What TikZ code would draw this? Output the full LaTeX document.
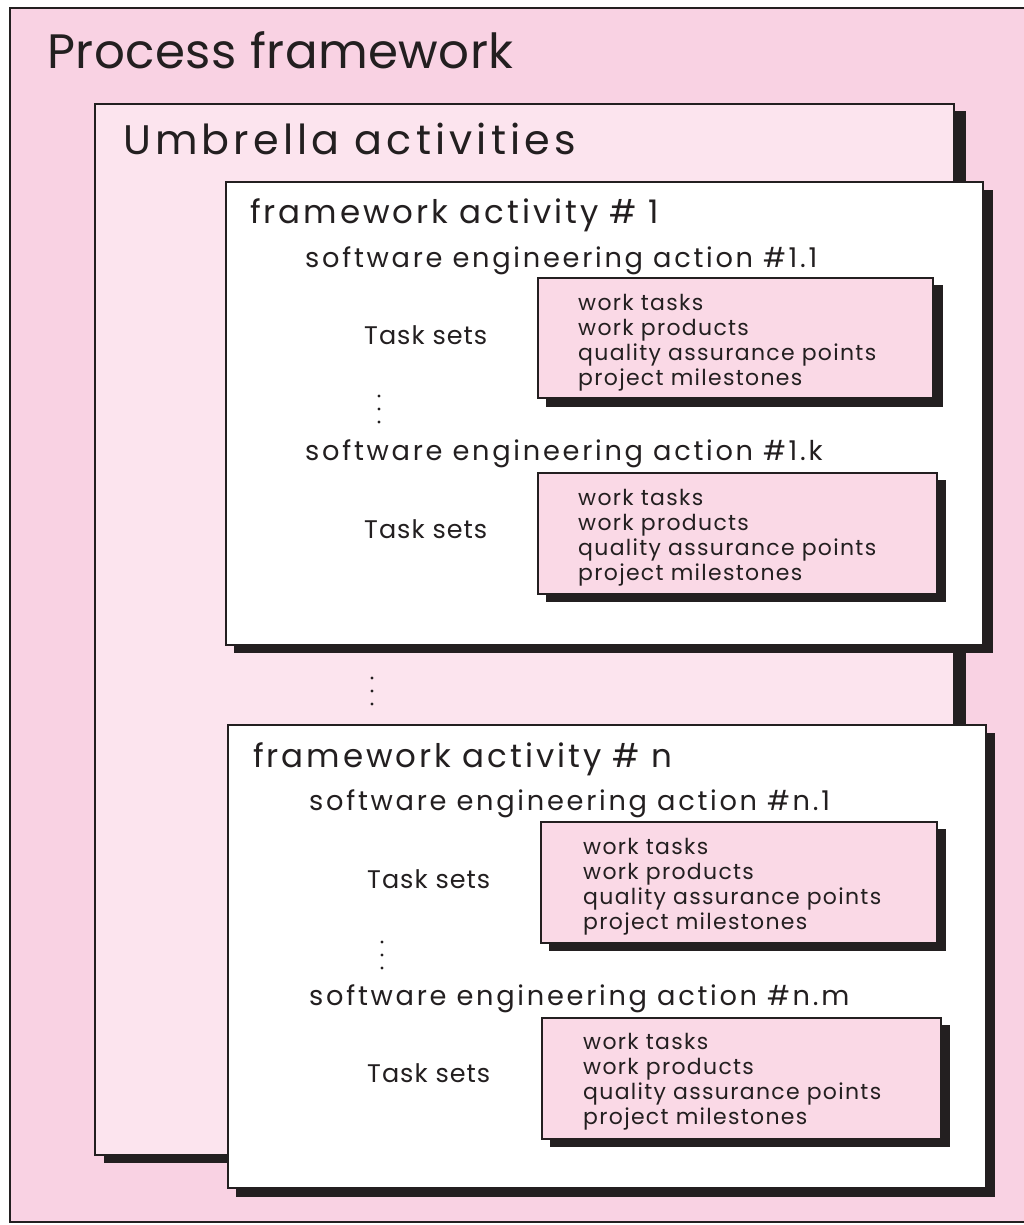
\documentclass[tikz,border=0pt]{standalone}
\usepackage{fontspec}
\setmainfont{Poppins}
\usepackage{tikz,color}

\definecolor{outerpink}{RGB}{249,210,227}
\definecolor{umbrpink}{RGB}{252,228,238}
\definecolor{taskpink}{RGB}{250,217,230}
\definecolor{ink}{RGB}{35,31,32}

\begin{document}
\begin{tikzpicture}[x=0.02cm, y=-0.02cm, line width=1.4pt,
  txt/.style={anchor=base west, inner sep=0pt, text=ink},
  ptitle/.style={txt, font={\fontsize{27.5}{30}\selectfont\addfontfeature{LetterSpace=1}}},
  utitle/.style={txt, font={\fontsize{23.5}{27}\selectfont\addfontfeature{LetterSpace=10}}},
  fahead/.style={txt, font={\fontsize{18.5}{22}\selectfont\addfontfeature{LetterSpace=9}}},
  sehead/.style={txt, font={\fontsize{15.5}{18}\selectfont\addfontfeature{LetterSpace=10}}},
  tslabel/.style={txt, font={\fontsize{14.5}{18}\selectfont\addfontfeature{LetterSpace=4}}},
  tsitem/.style={txt, font={\fontsize{12.5}{14}\selectfont\addfontfeature{LetterSpace=6}}}]

\clip (0,0) rectangle (1024,1225);

\path [fill=outerpink, draw=ink] (10,8) rectangle (1040,1222);

%%%%%%%%%%%%%%%%%%%%%%%%%%%%%%%%%%%%%%%%%%%%%%%%%%%%%%%%%%%%%%%%%%%%%%%%%%%%%%%%%%%
\path [fill=ink] (104,111) rectangle (966,1163);
\path [fill=umbrpink, draw=ink] (95,104) rectangle (954,1155);

\path [fill=ink] (234,190) rectangle (993,653);
\path [fill=white, draw=ink] (226,182) rectangle (983,645);

\path [fill=ink] (546,285) rectangle (943,407);
\path [fill=taskpink, draw=ink] (538,278) rectangle (933,398);

\path [fill=ink] (546,480) rectangle (946,602);
\path [fill=taskpink, draw=ink] (538,473) rectangle (937,594);

\path [fill=ink] (236,733) rectangle (995,1197);
\path [fill=white, draw=ink] (228,725) rectangle (986,1188);

\path [fill=ink] (549,829) rectangle (946,951);
\path [fill=taskpink, draw=ink] (541,822) rectangle (937,943);

\path [fill=ink] (550,1025) rectangle (950,1147);
\path [fill=taskpink, draw=ink] (542,1018) rectangle (941,1139);

%%%%%%%%%%%%%%%%%%%%%%%%%%%%%%%%%%%%%%%%%%%%%%%%%%%%%%%%%%%%%%%%%%%%%%%%%%%%%%%%%%%
\node (procfw) at (46,68) [ptitle] {Process framework};
\node (umbrella) at (122,154) [utitle] {Umbrella activities};

\node (fwact1) at (249,223) [fahead] {framework activity \# 1};
\node (seact11) at (304,267) [sehead] {software engineering action \#1.1};
\node (tasks11) at (363,344) [tslabel] {Task sets};
\node (seact1k) at (304,460) [sehead] {software engineering action \#1.k};
\node (tasks1k) at (363,538) [tslabel] {Task sets};

\node (fwactn) at (252,767) [fahead] {framework activity \# n};
\node (seactn1) at (308,810) [sehead] {software engineering action \#n.1};
\node (tasksn1) at (366,888) [tslabel] {Task sets};
\node (seactnm) at (308,1005) [sehead] {software engineering action \#n.m};
\node (tasksnm) at (366,1082) [tslabel] {Task sets};

% task set contents
\foreach \t [count=\i] in {work tasks, work products, quality assurance points, project milestones} {
  \node (list11-\i) at (577,285+25*\i) [tsitem] {\t};
  \node (list1k-\i) at (577,480+25*\i) [tsitem] {\t};
  \node (listn1-\i) at (582,829+25*\i) [tsitem] {\t};
  \node (listnm-\i) at (582,1024+25*\i) [tsitem] {\t};
}

% vertical dots
\foreach \y in {396,409,422} \fill [ink] (379,\y) circle (1.6);
\foreach \y in {678,691,704} \fill [ink] (372,\y) circle (1.6);
\foreach \y in {942,955,968} \fill [ink] (382,\y) circle (1.6);

\end{tikzpicture}
\end{document}
